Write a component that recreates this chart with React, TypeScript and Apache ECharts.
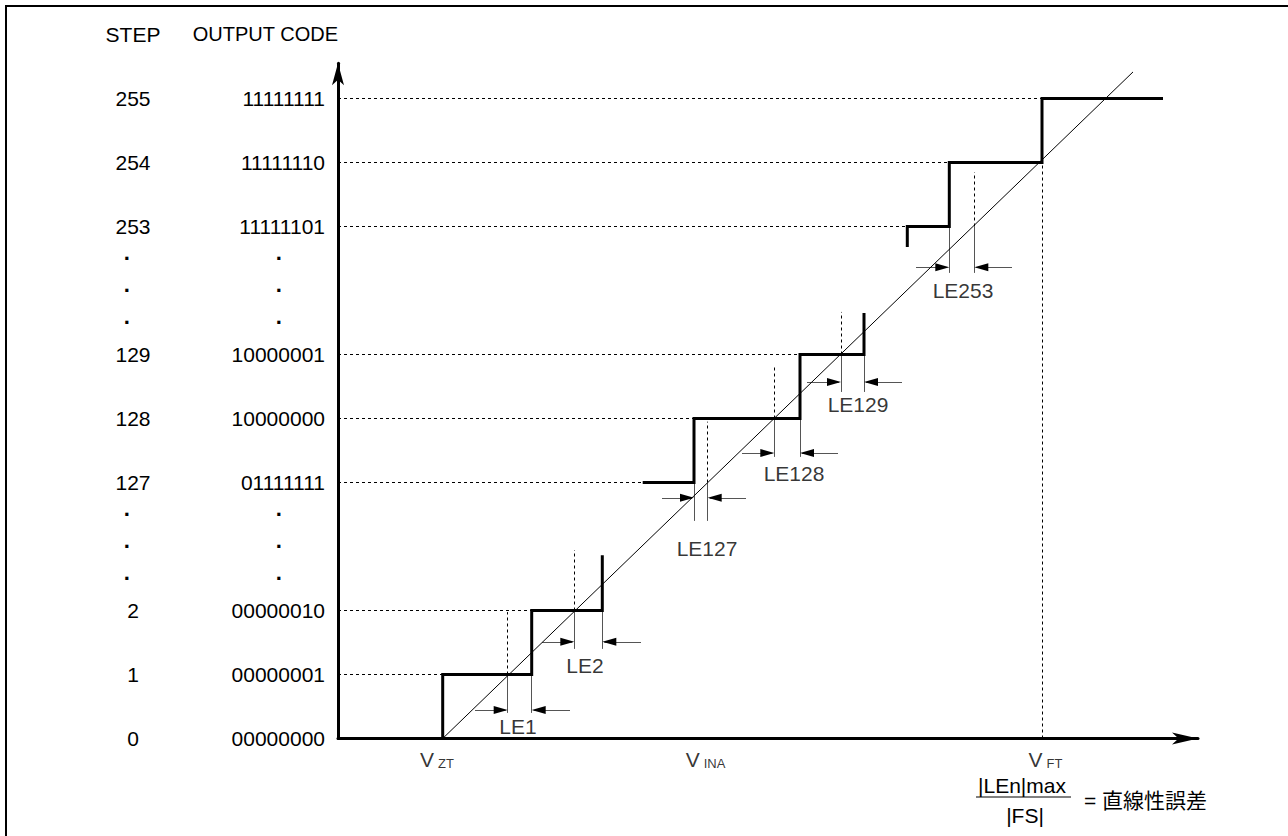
import React, { useEffect, useRef } from 'react';
import * as echarts from 'echarts';

// ---- data (x: analog input, arbitrary units; y: diagram rows, 2 rows per shown code) ----
const codeRows = [0, 2, 4, 5, 6, 7, 8, 10, 12, 13, 14, 15, 16, 18, 20];
const stepLabels = ['0', '1', '2', '·', '·', '·', '127', '128', '129', '·', '·', '·', '253', '254', '255'];
const codeLabels = ['00000000', '00000001', '00000010', '·', '·', '·', '01111111', '10000000', '10000001', '·', '·', '·', '11111101', '11111110', '11111111'];

const stairLow = [[104.7, 0], [104.7, 2], [193.7, 2], [193.7, 4], [264.3, 4], [264.3, 5.73]];
const stairMid = [[304.7, 8], [356, 8], [356, 10], [462, 10], [462, 12], [526, 12], [526, 13.3]];
const stairHigh = [[569.3, 15.36], [569.3, 16], [611.3, 16], [611.3, 18], [704, 18], [704, 20], [825, 20]];
const idealLine = [[104.7, 0], [795, 20.83]];

const guideRows = [2, 4, 8, 10, 12, 16, 18, 20];
const guideEnds = [104.7, 193.7, 304.7, 356, 462, 569.3, 611.3, 704];

const leNames = ['LE1', 'LE2', 'LE127', 'LE128', 'LE129', 'LE253'];
const leIdeal = [169.7, 236.3, 369.7, 436.3, 503, 636.3];
const leStep = [193.7, 264.3, 356, 462, 526, 611.3];
const leRow = [2, 4, 8, 10, 12, 16];
const leIdealTop = [3.95, 5.89, 9.9, 11.67, 13.33, 17.7];
const leTickEnd = [0.8, 2.8, 6.8, 8.8, 10.83, 14.55];
const leArrowRow = [0.89, 3.02, 7.52, 8.92, 11.14, 14.73];
const leArrowFromL = [137, 204, 324, 404, 469, 578];
const leArrowFromR = [232, 303, 408, 500, 564, 674];
const leLabelX = [180, 247, 369, 456, 520, 625];
const leLabelRow = [0.39, 2.27, 5.95, 8.27, 10.45, 14.0];

const vftX = 704;
const vftTop = 18;

const xMarkNames = ['ZT', 'INA', 'FT'];
const xMarkX = [99, 367.5, 707.5];

const FONT = "'Liberation Sans', Arial, Helvetica, sans-serif";
const CJK = "'Liberation Sans', 'Noto Sans CJK JP', sans-serif";

function rowIndex(v: number) {
  for (let i = 0; i < codeRows.length; i++) if (Math.abs(codeRows[i] - v) < 1e-6) return i;
  return -1;
}

export default function App() {
  const ref = useRef<HTMLDivElement>(null);
  useEffect(() => {
    const chart = echarts.init(ref.current!, null, { renderer: 'svg' });

    const dotted: any[] = [];
    guideRows.forEach((r, i) => dotted.push({ coords: [[0, r], [guideEnds[i], r]] }));
    leIdeal.forEach((x, i) => dotted.push({ coords: [[x, leRow[i]], [x, leIdealTop[i]]] }));
    dotted.push({ coords: [[vftX, 0], [vftX, vftTop]] });

    const ticks: any[] = [];
    const shafts: any[] = [];
    const heads: any[] = [];
    const HEAD = 14;
    leNames.forEach((_, i) => {
      const a = Math.min(leIdeal[i], leStep[i]);
      const b = Math.max(leIdeal[i], leStep[i]);
      ticks.push({ coords: [[leIdeal[i], leRow[i]], [leIdeal[i], leTickEnd[i]]] });
      ticks.push({ coords: [[leStep[i], leRow[i]], [leStep[i], leTickEnd[i]]] });
      const y = leArrowRow[i];
      shafts.push({ coords: [[leArrowFromL[i], y], [a - 2, y]] });
      shafts.push({ coords: [[leArrowFromR[i], y], [b + 2, y]] });
      heads.push({ coords: [[a - HEAD / 2 - 1, y], [a - HEAD / 2, y]] });
      heads.push({ coords: [[b + HEAD / 2 + 1, y], [b + HEAD / 2, y]] });
    });

    const codeFmt = (v: number) => {
      const i = rowIndex(v);
      if (i < 0) return '';
      return codeLabels[i] === '·' ? '{d|·}' : codeLabels[i];
    };
    const stepFmt = (v: number) => {
      const i = rowIndex(v);
      if (i < 0) return '';
      return stepLabels[i] === '·' ? '{d|·}' : stepLabels[i];
    };

    const yBase = {
      type: 'value',
      min: 0,
      max: 21.1,
      interval: 1,
      splitLine: { show: false },
      axisTick: { show: false },
    };

    const option: any = {
      animation: false,
      backgroundColor: '#fff',
      textStyle: { fontFamily: FONT },
      grid: { left: 338, right: 90, top: 63.3, bottom: 97.5, containLabel: false, outerBoundsMode: 'none' },
      xAxis: {
        type: 'value',
        min: 0,
        max: 860,
        splitLine: { show: false },
        axisTick: { show: false },
        axisLabel: { show: false },
        axisLine: {
          show: true,
          symbol: ['none', 'arrow'],
          symbolSize: [9, 26],
          lineStyle: { color: '#000', width: 3 },
        },
      },
      yAxis: [
        {
          ...yBase,
          name: 'OUTPUT CODE',
          nameLocation: 'end',
          nameGap: 29,
          nameTextStyle: { color: '#000', fontSize: 20, fontFamily: FONT, align: 'right', verticalAlign: 'middle' },
          axisLine: {
            show: true,
            symbol: ['none', 'arrow'],
            symbolSize: [9, 22],
            lineStyle: { color: '#000', width: 3 },
          },
          axisLabel: {
            show: true,
            color: '#000',
            fontSize: 21,
            fontFamily: FONT,
            margin: 13,
            formatter: codeFmt,
            rich: { d: { fontSize: 22, fontWeight: 'bold', padding: [0, 42, 0, 0], color: '#000' } },
          },
        },
        {
          ...yBase,
          position: 'left',
          offset: 205,
          name: 'STEP',
          nameLocation: 'end',
          nameGap: 29,
          nameTextStyle: { color: '#000', fontSize: 21, fontFamily: FONT, align: 'center', verticalAlign: 'middle' },
          axisLine: { show: false },
          axisLabel: {
            show: true,
            color: '#000',
            fontSize: 21,
            fontFamily: FONT,
            margin: 0,
            align: 'center',
            formatter: stepFmt,
            rich: { d: { fontSize: 22, fontWeight: 'bold', padding: [0, 11, 0, 0], color: '#000' } },
          },
        },
      ],
      series: [
        {
          type: 'lines',
          name: 'guides',
          coordinateSystem: 'cartesian2d',
          polyline: false,
          silent: true,
          lineStyle: { color: '#000', width: 1, type: [3, 3], opacity: 1 },
          data: dotted,
          z: 2,
        },
        {
          type: 'lines',
          name: 'ticks',
          coordinateSystem: 'cartesian2d',
          silent: true,
          lineStyle: { color: '#555', width: 1, opacity: 1 },
          data: ticks,
          z: 3,
        },
        {
          type: 'lines',
          name: 'shafts',
          coordinateSystem: 'cartesian2d',
          silent: true,
          lineStyle: { color: '#555', width: 1, opacity: 1 },
          data: shafts,
          z: 3,
        },
        {
          type: 'lines',
          name: 'heads',
          coordinateSystem: 'cartesian2d',
          silent: true,
          symbol: ['none', 'triangle'],
          symbolSize: [0, [8, HEAD]],
          lineStyle: { color: '#000', width: 1, opacity: 1 },
          data: heads,
          z: 4,
        },
        {
          type: 'lines',
          name: 'ideal',
          coordinateSystem: 'cartesian2d',
          silent: true,
          lineStyle: { color: '#000', width: 1, opacity: 1 },
          data: [{ coords: idealLine }],
          z: 4,
        },
        {
          type: 'lines',
          name: 'transfer',
          coordinateSystem: 'cartesian2d',
          polyline: true,
          silent: true,
          lineStyle: { color: '#000', width: 3, opacity: 1, join: 'miter', cap: 'butt' },
          data: [{ coords: stairLow }, { coords: stairMid }, { coords: stairHigh }],
          z: 5,
        },
        {
          type: 'scatter',
          name: 'leLabels',
          silent: true,
          clip: false,
          symbolSize: 1,
          itemStyle: { color: 'rgba(0,0,0,0)' },
          label: {
            show: true,
            position: 'inside',
            color: '#000',
            fontSize: 21,
            fontFamily: FONT,
            formatter: (p: any) => p.value[2],
          },
          data: leNames.map((n, i) => [leLabelX[i], leLabelRow[i], n]),
          z: 6,
        },
        {
          type: 'scatter',
          name: 'xMarks',
          silent: true,
          clip: false,
          symbolSize: 1,
          itemStyle: { color: 'rgba(0,0,0,0)' },
          label: {
            show: true,
            position: 'bottom',
            distance: 10,
            color: '#000',
            formatter: (p: any) => `{v|V}{s|${p.value[2]}}`,
            rich: {
              v: { fontSize: 21, lineHeight: 21, fontFamily: FONT, color: '#000', verticalAlign: 'bottom' },
              s: { fontSize: 13, lineHeight: 13, fontFamily: FONT, color: '#000', verticalAlign: 'bottom', padding: [0, 0, 0, 4] },
            },
          },
          data: xMarkNames.map((n, i) => [xMarkX[i], 0, n]),
          z: 6,
        },
      ],
      graphic: [
        {
          type: 'rect',
          silent: true,
          shape: { x: 6, y: 6, width: 1300, height: 850 },
          style: { fill: 'none', stroke: '#000', lineWidth: 2 },
        },
        {
          type: 'text',
          silent: true,
          x: 1022,
          y: 785,
          style: { text: '|LEn|max', fill: '#000', font: `21px ${FONT}`, align: 'center', verticalAlign: 'middle', textAlign: 'center', textVerticalAlign: 'middle' },
        },
        {
          type: 'line',
          silent: true,
          shape: { x1: 976, y1: 797, x2: 1071, y2: 797 },
          style: { stroke: '#000', lineWidth: 1 },
        },
        {
          type: 'text',
          silent: true,
          x: 1025,
          y: 815,
          style: { text: '|FS|', fill: '#000', font: `21px ${FONT}`, align: 'center', verticalAlign: 'middle', textAlign: 'center', textVerticalAlign: 'middle' },
        },
        {
          type: 'text',
          silent: true,
          x: 1084,
          y: 800,
          style: { text: '= 直線性誤差', fill: '#000', font: `21px ${CJK}`, align: 'left', verticalAlign: 'middle', textAlign: 'left', textVerticalAlign: 'middle' },
        },
      ],
    };

    chart.setOption(option);
    return () => chart.dispose();
  }, []);

  return (
    <div
      ref={ref}
      style={{ position: 'absolute', left: 0, top: 0, width: 1288, height: 836, background: '#fff' }}
    />
  );
}
